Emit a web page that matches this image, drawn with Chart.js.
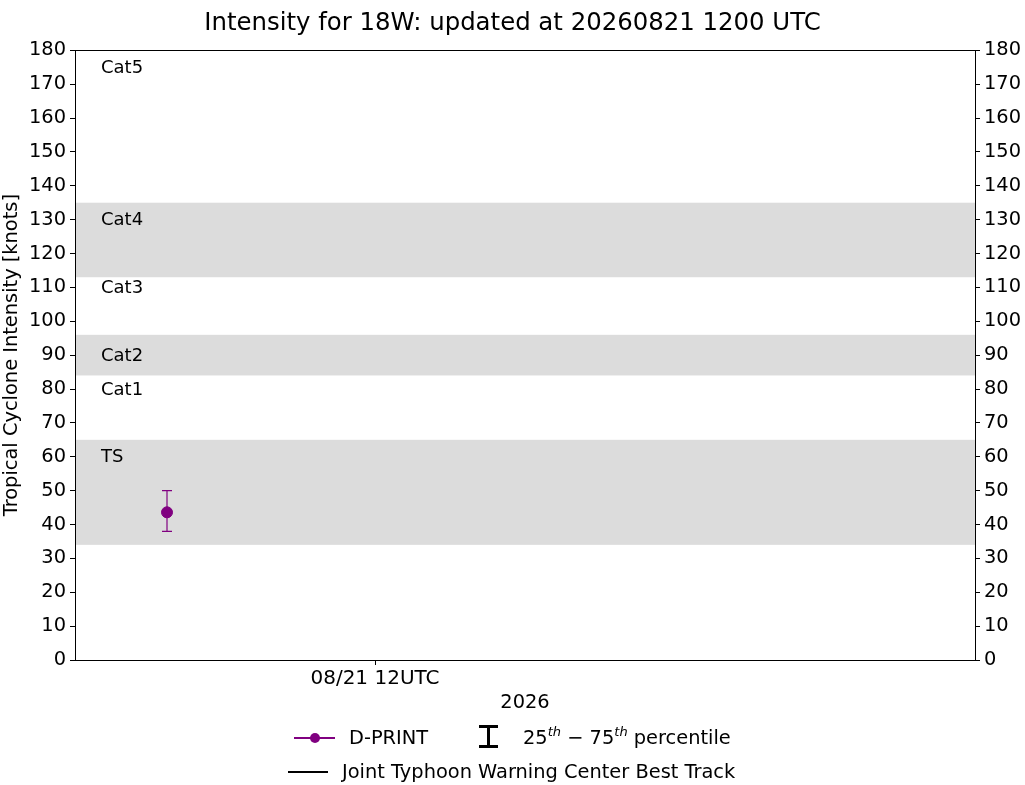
<!DOCTYPE html>
<html><head><meta charset="utf-8">
<script src="https://cdn.jsdelivr.net/npm/chart.js@4.4.1/dist/chart.umd.min.js"></script>
<style>
html,body{margin:0;padding:0;background:#fff;overflow:hidden}
#wrap{position:relative;width:1025px;height:785px}
#c{position:absolute;left:0;top:0}
.lg{position:absolute;font-family:'DejaVu Sans';font-size:19.4px;color:#000;white-space:nowrap;line-height:22px}
.lg sup{font-size:13px;font-style:italic;vertical-align:0;position:relative;top:-8px}
</style></head>
<body><div id="wrap">
<canvas id="c" width="1025" height="785" style="width:1025px;height:785px"></canvas>
<div class="lg" style="left:294px;top:737px;width:41px;height:2px;background:#800080"></div>
<div class="lg" style="left:310px;top:733px;width:10px;height:10px;border-radius:50%;background:#800080"></div>
<div class="lg" style="left:349px;top:727px">D-PRINT</div>
<div class="lg" style="left:479px;top:725px;width:19px;height:3px;background:#000"></div>
<div class="lg" style="left:487px;top:725px;width:3px;height:23px;background:#000"></div>
<div class="lg" style="left:479px;top:745px;width:19px;height:3px;background:#000"></div>
<div class="lg" style="left:523px;top:727px">25<sup>th</sup> − 75<sup>th</sup> percentile</div>
<div class="lg" style="left:288px;top:771px;width:40px;height:2px;background:#000"></div>
<div class="lg" style="left:342px;top:761px">Joint Typhoon Warning Center Best Track</div>
</div>
<script>
// ---- data ----
const titleText = 'Intensity for 18W: updated at 20260821 1200 UTC';
const yearLabel = '2026';
const xTickValues = [12];               // hours on 08/21
const xTickLabels = ['08/21 12UTC'];
const xRange = [6, 24];                 // hours
const dprintTimes = [7.84];             // hours on 08/21
const dprintValues = [43.6];            // knots
const dprintP25 = [38];
const dprintP75 = [50];
const bestTrackTimes = [];
const bestTrackValues = [];
const categoryNames = ['Cat5', 'Cat4', 'Cat3', 'Cat2', 'Cat1', 'TS'];
const categoryTextValues = [175, 130, 110, 90, 80, 60];
const bandLow = [34, 84, 113];
const bandHigh = [65, 96, 135];

const FONT = "'DejaVu Sans'";
const PURPLE = '#800080';

const decor = {
  id: 'decor',
  beforeDatasetsDraw(chart) {
    const {ctx, chartArea: a, scales} = chart;
    const y = scales.y, x = scales.x;
    ctx.save();
    ctx.beginPath(); ctx.rect(a.left, a.top, a.right - a.left, a.bottom - a.top); ctx.clip();
    ctx.fillStyle = '#dcdcdc';
    bandLow.forEach((lo, i) => {
      const t = y.getPixelForValue(bandHigh[i]), b = y.getPixelForValue(lo);
      ctx.fillRect(a.left, t, a.right - a.left, b - t);
    });
    ctx.fillStyle = '#000';
    ctx.font = '18px ' + FONT;
    ctx.textAlign = 'left'; ctx.textBaseline = 'middle';
    categoryNames.forEach((n, i) => ctx.fillText(n, a.left + 26, y.getPixelForValue(categoryTextValues[i]) + 1));
    // error bars
    ctx.strokeStyle = PURPLE; ctx.lineWidth = 1.2;
    dprintTimes.forEach((t, i) => {
      const px = x.getPixelForValue(t);
      const p1 = y.getPixelForValue(dprintP75[i]), p0 = y.getPixelForValue(dprintP25[i]);
      ctx.beginPath();
      ctx.moveTo(px, p1); ctx.lineTo(px, p0);
      ctx.moveTo(px - 5, p1); ctx.lineTo(px + 5, p1);
      ctx.moveTo(px - 5, p0); ctx.lineTo(px + 5, p0);
      ctx.stroke();
    });
    ctx.restore();
  },
  afterDraw(chart) {
    const {ctx, chartArea: a} = chart;
    ctx.save();
    ctx.strokeStyle = '#000'; ctx.lineWidth = 1;
    ctx.strokeRect(Math.round(a.left) + 0.5, Math.round(a.top) + 0.5, Math.round(a.right - a.left), Math.round(a.bottom - a.top));
    ctx.restore();
  }
};

const yTicks = {color: '#000', font: {family: FONT, size: 19.4}, stepSize: 10, padding: 4};
const axisGrid = {drawOnChartArea: false, drawTicks: true, tickLength: 5, color: '#000', tickWidth: 1};

new Chart(document.getElementById('c'), {
  type: 'scatter',
  data: {
    datasets: [
      {
        label: 'D-PRINT',
        data: dprintTimes.map((t, i) => ({x: t, y: dprintValues[i]})),
        backgroundColor: PURPLE, borderColor: PURPLE,
        pointRadius: 5.5, pointHoverRadius: 5.5, showLine: true
      },
      {
        label: 'Joint Typhoon Warning Center Best Track',
        data: bestTrackTimes.map((t, i) => ({x: t, y: bestTrackValues[i]})),
        borderColor: '#000', showLine: true, pointRadius: 0
      }
    ]
  },
  options: {
    responsive: false, animation: false, devicePixelRatio: 1,
    layout: {padding: {top: 0, left: 0, right: 0, bottom: 70}},
    plugins: {
      legend: {display: false}, tooltip: {enabled: false},
      title: {display: true, text: titleText, color: '#000',
        font: {family: FONT, size: 24.4, weight: 'normal', lineHeight: 1.2},
        padding: {top: 9, bottom: 12}}
    },
    scales: {
      x: {
        type: 'linear', position: 'bottom', min: xRange[0], max: xRange[1],
        afterBuildTicks: s => { s.ticks = xTickValues.map(v => ({value: v})); },
        ticks: {color: '#000', font: {family: FONT, size: 20}, padding: 2,
          maxRotation: 0, autoSkip: false,
          callback: (v) => { const k = xTickValues.indexOf(v); return k >= 0 ? xTickLabels[k] : ''; }},
        grid: axisGrid,
        border: {display: true, color: '#000', width: 1},
        title: {display: true, text: yearLabel, color: '#000', font: {family: FONT, size: 19.4}, padding: {top: 0, bottom: 0}},
        afterFit: s => { s.height = 55; }
      },
      y: {
        position: 'left', min: 0, max: 180, ticks: yTicks, grid: axisGrid,
        border: {display: true, color: '#000', width: 1},
        title: {display: true, text: 'Tropical Cyclone Intensity [knots]', color: '#000',
          font: {family: FONT, size: 19.4}, padding: {top: 0, bottom: 0}},
        afterFit: s => { s.width = 75; }
      },
      y2: {
        position: 'right', min: 0, max: 180, ticks: yTicks, grid: axisGrid,
        border: {display: true, color: '#000', width: 1},
        afterFit: s => { s.width = 50; }
      }
    }
  },
  plugins: [decor]
});
</script>
</body></html>
